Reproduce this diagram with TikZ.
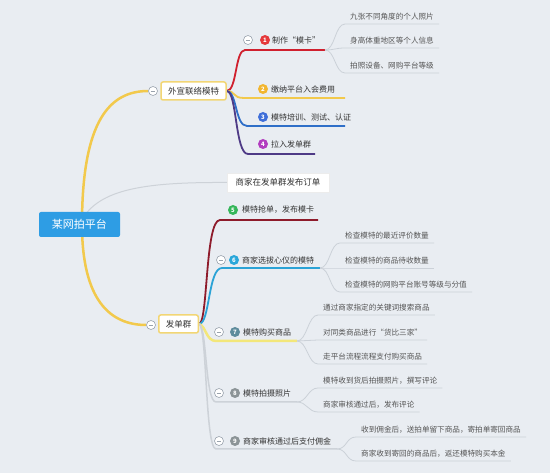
\documentclass[tikz,border=0pt]{standalone}
\usepackage{fontspec}
\setmainfont{Noto Sans CJK SC}
\usetikzlibrary{backgrounds}
\definecolor{bgc}{HTML}{E9EDF2}
\definecolor{rootc}{HTML}{2E9DE4}
\definecolor{goldc}{HTML}{F2C94C}
\definecolor{boxc}{HTML}{F2D675}
\definecolor{collc}{HTML}{9AA3AD}
\definecolor{txtc}{HTML}{333333}
\definecolor{childc}{HTML}{555555}
\definecolor{chline}{HTML}{CBD1D8}
\definecolor{redl}{HTML}{D0202E}
\definecolor{bluel}{HTML}{2F6FC8}
\definecolor{purpl}{HTML}{4E3A86}
\definecolor{darkredl}{HTML}{8E1B2B}
\definecolor{cyanl}{HTML}{2BA3D6}
\definecolor{yelll}{HTML}{F3E77A}
\definecolor{grayl}{HTML}{CDD2D8}
\definecolor{n1}{HTML}{E5393B}
\definecolor{n2}{HTML}{F2B630}
\definecolor{n3}{HTML}{3F6FD9}
\definecolor{n4}{HTML}{B23CC0}
\definecolor{n5}{HTML}{35B65A}
\definecolor{n6}{HTML}{2AA7DA}
\definecolor{n7}{HTML}{5E8C9C}
\definecolor{n8}{HTML}{8C9497}
\begin{document}
\begin{tikzpicture}[x=1pt,y=-1pt,
  rootbox/.style={fill=rootc, rounded corners=2pt, text=white, minimum width=81pt, minimum height=25pt, inner sep=0pt, font=\fontsize{11}{12}\selectfont},
  topicbox/.style={draw=boxc, line width=1.5pt, fill=white, rounded corners=2pt, minimum height=18pt, inner xsep=7pt, inner ysep=0pt, text=txtc, font=\fontsize{8.5}{10}\selectfont},
  plainbox/.style={fill=white, draw=white!85!gray, line width=0.4pt, minimum height=19pt, minimum width=102pt, inner sep=0pt, text=txtc, font=\fontsize{8.5}{10}\selectfont},
  coll/.style={circle, draw=collc, fill=white, line width=0.6pt, inner sep=0pt, minimum size=9pt,
    path picture={\draw[collc, line width=0.6pt] ([xshift=-2.3pt]path picture bounding box.center) -- ([xshift=2.3pt]path picture bounding box.center);}},
  numc/.style={circle, fill=#1, text=white, inner sep=0pt, minimum size=10pt, font=\fontsize{6}{6}\selectfont\bfseries},
  brt/.style={anchor=west, inner sep=0pt, text=txtc, font=\fontsize{8}{9}\selectfont},
  childt/.style={anchor=south west, inner xsep=5pt, inner ysep=3pt, text height=6pt, text depth=1.5pt, text=childc, font=\fontsize{7.6}{9}\selectfont},
  mainl/.style={draw=goldc, line width=2.5pt},
  brl/.style={line width=1.8pt},
  chl/.style={draw=chline, line width=0.8pt}]
\useasboundingbox (0,0) rectangle (550,473);

% root and topics
\node[rootbox] (root) at (79.5,224.5) {某网拍平台};
\node[topicbox] (t1) at (193.5,91) {外宣联络模特};
\node[coll] (c1) at (153,91) {};
\node[topicbox] (t2) at (178.5,324) {发单群};
\node[coll] (c2) at (151,325) {};
\node[plainbox] (t3) at (278,182.5) {商家在发单群发布订单};

% branch end coordinates
\coordinate (u1) at (325,50);
\coordinate (u2) at (345,98);
\coordinate (u3) at (345,126);
\coordinate (u4) at (315,154);
\coordinate (u5) at (318,220);
\coordinate (u6) at (320,268);
\coordinate (u7) at (297,341);
\coordinate (u8) at (297,402);
\coordinate (u9) at (337,449);

% branches of t1
\node[coll] (k1) at (248,40) {};
\node[numc=n1] (n1) at (265,40) {1};
\node[brt] (b1) at (272,40) {制作“模卡”};
\node[numc=n2] (n2) at (263,89) {2};
\node[brt] (b2) at (271,89) {缴纳平台入会费用};
\node[numc=n3] (n3) at (263,117) {3};
\node[brt] (b3) at (271,117) {模特培训、测试、认证};
\node[numc=n4] (n4) at (263,144) {4};
\node[brt] (b4) at (271,144) {拉入发单群};

% branches of t2
\node[numc=n5] (n5) at (233,210) {5};
\node[brt] (b5) at (242,210) {模特抢单，发布模卡};
\node[coll] (k6) at (221,260) {};
\node[numc=n6] (n6) at (234,260) {6};
\node[brt] (b6) at (242,260) {商家选拔心仪的模特};
\node[coll] (k7) at (219,332) {};
\node[numc=n7] (n7) at (235,332) {7};
\node[brt] (b7) at (243,332) {模特购买商品};
\node[coll] (k8) at (219,393) {};
\node[numc=n8] (n8) at (235,393) {8};
\node[brt] (b8) at (243,393) {模特拍摄照片};
\node[coll] (k9) at (219,441) {};
\node[numc=n8] (n9) at (235,441) {9};
\node[brt] (b9) at (243,441) {商家审核通过后支付佣金};

% children
\node[childt] (c11) at (345,24) {九张不同角度的个人照片};
\node[childt] (c12) at (345,48) {身高体重地区等个人信息};
\node[childt] (c13) at (345,73) {拍照设备、网购平台等级};
\node[childt] (c61) at (340,243) {检查模特的最近评价数量};
\node[childt] (c62) at (340,268) {检查模特的商品待收数量};
\node[childt] (c63) at (340,292) {检查模特的网购平台账号等级与分值};
\node[childt] (c71) at (318,315) {通过商家指定的关键词搜索商品};
\node[childt] (c72) at (318,340) {对同类商品进行“货比三家”};
\node[childt] (c73) at (318,364) {走平台流程流程支付购买商品};
\node[childt] (c81) at (318,388) {模特收到货后拍摄照片，撰写评论};
\node[childt] (c82) at (318,412) {商家审核通过后，发布评论};
\node[childt] (c91) at (356,437) {收到佣金后，送拍单留下商品，寄拍单寄回商品};
\node[childt] (c92) at (356,461) {商家收到寄回的商品后，返还模特购买本金};

\begin{scope}[on background layer]
\fill[bgc] (0,0) rectangle (550,473);
% main lines
\draw[draw=grayl, line width=1pt] (root.center) .. controls (95,190) and (140,182) .. (t3.west);
\draw[mainl] ([xshift=2.5pt]root.center) .. controls (82,120) and (110,91) .. (c1.west);
\draw[mainl] ([xshift=2.5pt]root.center) .. controls (82,300) and (110,325) .. (c2.west);
% t1 branches
\draw[brl, draw=redl] (t1.east) .. controls (237,91) and (235,50) .. (245,50) -- (u1);
\draw[brl, draw=goldc] (t1.east) .. controls (236,91) and (232,98) .. (244,98) -- (u2);
\draw[brl, draw=bluel] (t1.east) .. controls (237,91) and (235,126) .. (247,126) -- (u3);
\draw[brl, draw=purpl] (t1.east) .. controls (237,91) and (235,154) .. (248,154) -- (u4);
% t2 branches
\draw[brl, draw=darkredl] (t2.east) .. controls (208,324) and (205,220) .. (220,220) -- (u5);
\draw[brl, draw=cyanl] (t2.east) .. controls (210,324) and (208,268) .. (222,268) -- (u6);
\draw[line width=2.5pt, draw=yelll] (t2.east) .. controls (206,326) and (206,341) .. (216,341) -- (u7);
\draw[line width=1.5pt, draw=grayl] (t2.east) .. controls (207,326) and (205,402) .. (216,402) -- (u8);
\draw[line width=1.5pt, draw=grayl] (t2.east) .. controls (207,326) and (205,449) .. (216,449) -- (u9);
% children lines
\foreach \u/\c in {u1/c11,u1/c12,u1/c13,u6/c61,u6/c62,u6/c63,u7/c71,u7/c72,u7/c73,u8/c81,u8/c82,u9/c91,u9/c92}{
  \draw[chl] (\u) .. controls +(10,0) and +(-10,0) .. (\c.south west) -- (\c.south east);
}
\end{scope}
\end{tikzpicture}
\end{document}
